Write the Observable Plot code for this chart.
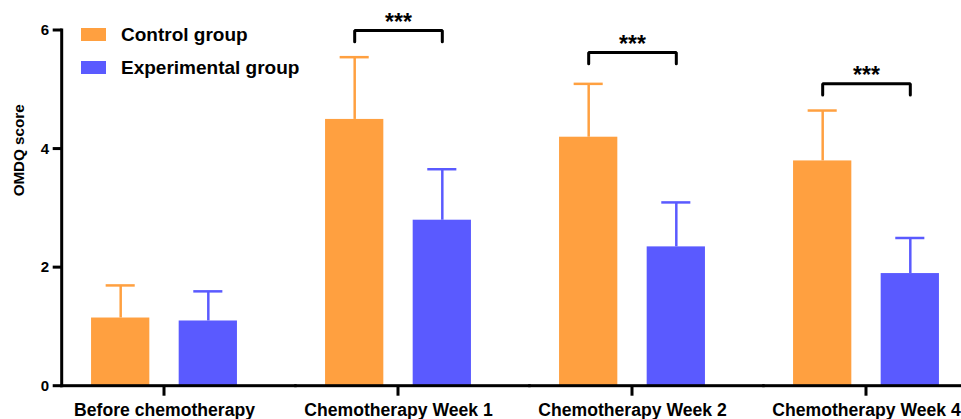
<!DOCTYPE html>
<html><head><meta charset="utf-8">
<script src="https://cdn.jsdelivr.net/npm/d3@7"></script>
<script src="https://cdn.jsdelivr.net/npm/@observablehq/plot@0.6"></script>
<style>
html,body{margin:0;padding:0;background:#fff;}
#wrap{position:relative;width:961px;height:419px;overflow:hidden;font-family:"Liberation Sans",Arial,sans-serif;}
.legend{position:absolute;left:81px;font-weight:bold;font-size:19px;line-height:19px;height:19px;display:flex;align-items:center;color:#000;white-space:nowrap;}
.sw{width:25px;height:13px;margin-right:15px;}
</style></head><body><div id="wrap"></div>
<script>
// ---- data ----
const timepoints = ["Before chemotherapy", "Chemotherapy Week 1", "Chemotherapy Week 2", "Chemotherapy Week 4"];
const groups = ["Control group", "Experimental group"];
const groupColors = ["#FFA040", "#5A5AFF"];
const controlMean = [1.15, 4.5, 4.2, 3.8];
const controlSD = [0.55, 1.05, 0.9, 0.85];
const experimentalMean = [1.1, 2.8, 2.35, 1.9];
const experimentalSD = [0.5, 0.86, 0.75, 0.6];
const yTicks = [0, 2, 4, 6];
const sigLabels = ["", "***", "***", "***"];
const sigBracketTop = [null, 6.0, 5.63, 5.1];
const bracketLeg = 0.19;
const yLabel = "OMDQ score";

// ---- tables ----
const rows = [];
timepoints.forEach((t, i) => {
  rows.push({time: t, group: groups[0], value: controlMean[i], upper: controlMean[i] + controlSD[i]});
  rows.push({time: t, group: groups[1], value: experimentalMean[i], upper: experimentalMean[i] + experimentalSD[i]});
});
const bracketRows = [];
const starRows = [];
timepoints.forEach((t, i) => {
  const top = sigBracketTop[i];
  if (top == null) return;
  bracketRows.push({time: t, group: groups[0], y: top - bracketLeg});
  bracketRows.push({time: t, group: groups[0], y: top});
  bracketRows.push({time: t, group: groups[1], y: top});
  bracketRows.push({time: t, group: groups[1], y: top - bracketLeg});
  starRows.push({time: t, y: top, label: sigLabels[i]});
});

// ---- layout ----
const ink = "#000";
const W = 961, H = 419, mL = 61.7, mR = -7.3, mT = 30, mB = 33.3;
const fxPad = 0.1256;
const fxStep = (W - mL - mR) / (timepoints.length - fxPad);
const facetW = fxStep * (1 - fxPad);
const axisW = 3, yTickLen = 9, xTickLen = 10;

const chart = Plot.plot({
  width: W,
  height: H,
  marginLeft: mL,
  marginRight: mR,
  marginTop: mT,
  marginBottom: mB,
  style: {fontFamily: '"Liberation Sans", Arial, sans-serif', fontWeight: "bold", color: ink, background: "#fff"},
  fx: {domain: timepoints, paddingInner: fxPad, paddingOuter: 0, round: false, label: null},
  x: {domain: groups, padding: 0.335, round: false, axis: null},
  y: {domain: [0, 6], label: null},
  color: {domain: groups, range: groupColors},
  marks: [
    Plot.barY(rows, {fx: "time", x: "group", y: "value", fill: "group"}),
    Plot.ruleX(rows, {fx: "time", x: "group", y1: "value", y2: "upper", stroke: "group", strokeWidth: 2.5}),
    Plot.tickY(rows, {fx: "time", x: "group", y: "upper", stroke: "group", strokeWidth: 2.5, insetLeft: 14.6, insetRight: 14.6}),
    Plot.line(bracketRows, {fx: "time", x: "group", y: "y", stroke: ink, strokeWidth: 3, strokeLinejoin: "miter"}),
    Plot.text(starRows, {fx: "time", y: "y", text: "label", fontSize: 23, dy: -8, fill: ink}),
    // x axis line (spans each facet and the gap after it)
    Plot.rect([0], {y1: 0, y2: 0, insetTop: -axisW / 2, insetBottom: -axisW / 2, insetLeft: -axisW / 2, insetRight: -(fxStep - facetW) - 1, fill: ink}),
    // y axis line
    Plot.rect([0], {y1: 0, y2: 6, insetTop: -axisW / 2, insetBottom: -axisW / 2, insetLeft: -axisW / 2, insetRight: facetW - axisW / 2, fill: ink, facetAnchor: "left"}),
    // y ticks
    Plot.rect(yTicks, {y1: d => d, y2: d => d, insetTop: -axisW / 2, insetBottom: -axisW / 2, insetLeft: -yTickLen, insetRight: facetW, fill: ink, facetAnchor: "left"}),
    // fx ticks
    Plot.rect(timepoints, {fx: d => d, y1: 0, y2: 0, insetTop: 0, insetBottom: -xTickLen, insetLeft: facetW / 2 - axisW / 2, insetRight: facetW / 2 - axisW / 2, fill: ink}),
    Plot.axisY({ticks: yTicks, tickFormat: "d", tickSize: 0, tickPadding: yTickLen + 4, fill: ink, fontSize: 15, label: null}),
    Plot.axisFx({anchor: "bottom", tickSize: 0, tickPadding: xTickLen + 7, fill: ink, fontSize: 17.6, label: null}),
    Plot.text([yLabel], {frameAnchor: "left", rotate: -90, dx: -43, dy: -12, fontSize: 15.2, fill: ink, facet: "super"})
  ]
});

const wrap = document.getElementById("wrap");
wrap.appendChild(chart);
const legendTops = [24.8, 58.4];
groups.forEach((g, i) => {
  const item = document.createElement("div");
  item.className = "legend";
  item.style.top = legendTops[i] + "px";
  const sw = document.createElement("span");
  sw.className = "sw";
  sw.style.background = groupColors[i];
  const tx = document.createElement("span");
  tx.textContent = g;
  item.appendChild(sw);
  item.appendChild(tx);
  wrap.appendChild(item);
});
</script></body></html>
